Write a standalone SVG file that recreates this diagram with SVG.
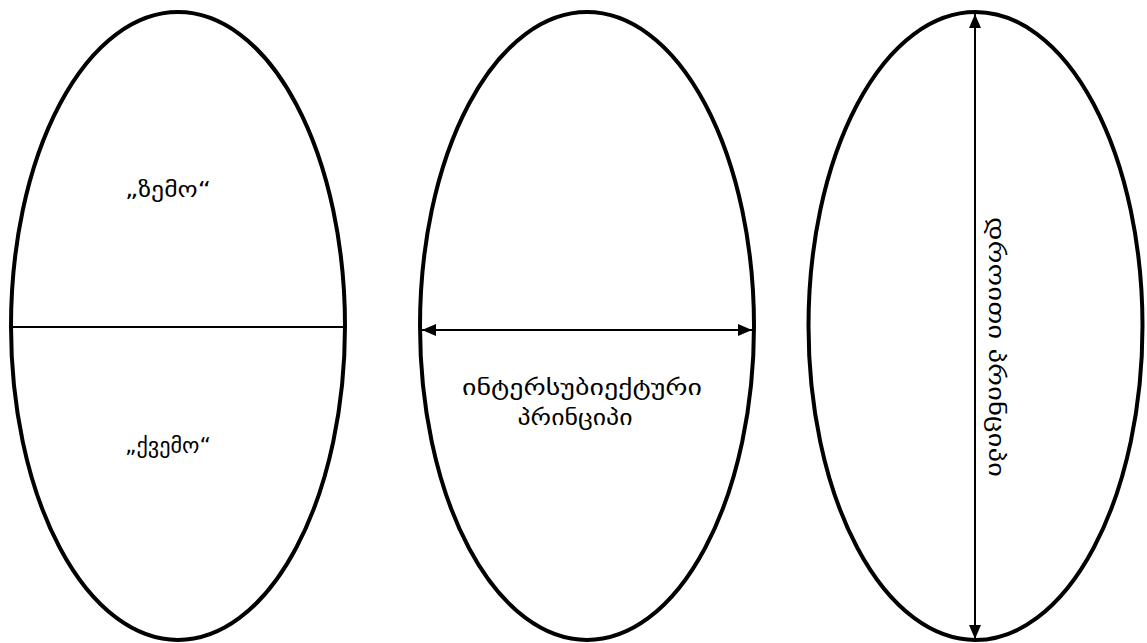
<svg xmlns="http://www.w3.org/2000/svg" width="1147" height="643" viewBox="0 0 1147 643">
<defs>
<style>
.ell{fill:none;stroke:#000;stroke-width:4}
.ln{stroke:#000;stroke-width:2;fill:none}
.t{font-family:"DejaVu Sans","Noto Sans",sans-serif;font-size:22px;fill:#000;text-anchor:middle}
</style>
<marker id="ah" viewBox="0 0 14 12" refX="14" refY="6" markerWidth="14" markerHeight="12" markerUnits="userSpaceOnUse" orient="auto-start-reverse">
<path d="M0,0 L14,6 L0,12 Z" fill="#000"/>
</marker>
</defs>
<rect width="1147" height="643" fill="#fff"/>
<g id="node-left">
<ellipse class="ell" cx="178" cy="326" rx="167" ry="314"/>
<text class="t" x="168" y="197" textLength="86" lengthAdjust="spacingAndGlyphs">„ზემო“</text>
<text class="t" x="168" y="453" textLength="86" lengthAdjust="spacingAndGlyphs">„ქვემო“</text>
</g>
<g id="node-middle">
<ellipse class="ell" cx="587" cy="326" rx="167" ry="314"/>
<text class="t" x="582" y="395" textLength="240" lengthAdjust="spacingAndGlyphs">ინტერსუბიექტური</text>
<text class="t" x="575" y="425" textLength="115" lengthAdjust="spacingAndGlyphs">პრინციპი</text>
</g>
<g id="node-right">
<ellipse class="ell" cx="975.5" cy="326" rx="167" ry="314"/>
<text class="t" transform="translate(989,347) rotate(90)" x="0" y="0" textLength="260" lengthAdjust="spacingAndGlyphs">დროითი პრინციპი</text>
</g>
<g id="connectors">
<line class="ln" x1="12" y1="327" x2="345" y2="327"/>
<line class="ln" x1="422" y1="330" x2="752" y2="330" marker-start="url(#ah)" marker-end="url(#ah)"/>
<line class="ln" x1="975" y1="14" x2="975" y2="639" marker-start="url(#ah)" marker-end="url(#ah)"/>
</g>
</svg>
